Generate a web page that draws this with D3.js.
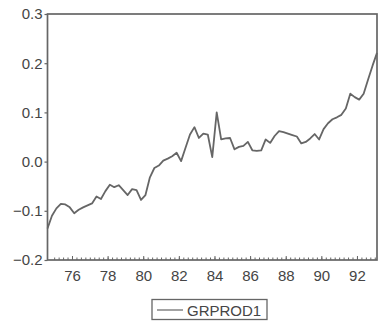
<!DOCTYPE html>
<html>
<head>
<meta charset="utf-8">
<script src="https://cdn.jsdelivr.net/npm/d3@7"></script>
<style>
  html, body { margin: 0; padding: 0; background: #fff; }
  svg { display: block; }
  text { font-family: "Liberation Sans", Arial, sans-serif; fill: #454545; }
</style>
</head>
<body>
<svg id="chart" width="380" height="324"></svg>
<script>
// Quarterly series GRPROD1, 1974Q3 - 1993Q1
const startYear = 1974, startQuarter = 3;
const grprod1 = [
  -0.136, -0.110, -0.095, -0.086, -0.087, -0.093, -0.105, -0.098, -0.093, -0.089,
  -0.085, -0.071, -0.076, -0.060, -0.047, -0.052, -0.048, -0.058, -0.068, -0.056,
  -0.058, -0.078, -0.068, -0.032, -0.013, -0.008,  0.002,  0.006,  0.011,  0.018,
   0.001,  0.028,  0.055,  0.070,  0.048,  0.057,  0.055,  0.009,  0.100,  0.045,
   0.047,  0.048,  0.025,  0.030,  0.032,  0.040,  0.023,  0.022,  0.023,  0.045,
   0.038,  0.052,  0.062,  0.060,  0.057,  0.054,  0.051,  0.037,  0.040,  0.047,
   0.056,  0.045,  0.066,  0.078,  0.086,  0.090,  0.095,  0.108,  0.138,  0.131,
   0.126,  0.138,  0.167,  0.195,  0.221
];
const yTicks = [-0.2, -0.1, 0.0, 0.1, 0.2, 0.3];
const xLabelYears = [1976, 1978, 1980, 1982, 1984, 1986, 1988, 1990, 1992];
const seriesName = "GRPROD1";

// each observation sits at the middle of its quarter
const points = grprod1.map((v, i) => {
  const q = startQuarter - 1 + i;
  return { t: startYear + Math.floor(q / 4) + (q % 4) / 4 + 0.125, v };
});

const margin = { left: 47.5, right: 3, top: 14, bottom: 64 };
const W = 380, H = 324;
const svg = d3.select("#chart");

const x = d3.scaleLinear()
  .domain([points[0].t, points[points.length - 1].t])
  .range([margin.left, W - margin.right]);
const y = d3.scaleLinear()
  .domain([-0.2, 0.3])
  .range([H - margin.bottom, margin.top]);

const frameColor = "#666";
const textColor = "#454545";

// quarterly ticks on the bottom axis, pointing into the plot
const quarterTicks = d3.range(1975, 1993.25, 0.25);
svg.append("g")
  .attr("transform", `translate(0,${y(-0.2)})`)
  .call(d3.axisBottom(x).tickValues(quarterTicks).tickSize(-2.5).tickFormat(""))
  .call(g => g.select(".domain").remove())
  .call(g => g.selectAll("line").attr("stroke", frameColor).attr("stroke-width", 1));

svg.append("g")
  .attr("transform", `translate(0,${y(-0.2)})`)
  .call(d3.axisBottom(x).tickValues(xLabelYears).tickSize(-4)
    .tickFormat(d => String(d % 100).padStart(2, "0")).tickPadding(10))
  .call(g => g.select(".domain").remove())
  .call(g => g.selectAll("line").attr("stroke", frameColor).attr("stroke-width", 1))
  .call(g => g.selectAll("text").attr("font-size", 15).attr("fill", textColor)
    .attr("font-family", "'Liberation Sans', Arial, sans-serif"));

// left axis
svg.append("g")
  .attr("transform", `translate(${margin.left},0)`)
  .call(d3.axisLeft(y).tickValues(yTicks).tickSize(3).tickPadding(2).tickFormat(d3.format(".1f")))
  .call(g => g.select(".domain").remove())
  .call(g => g.selectAll("line").attr("stroke", frameColor).attr("stroke-width", 1.2))
  .call(g => g.selectAll("text").attr("font-size", 15).attr("fill", textColor)
    .attr("font-family", "'Liberation Sans', Arial, sans-serif"));

// plot frame
svg.append("rect")
  .attr("x", margin.left).attr("y", margin.top)
  .attr("width", W - margin.right - margin.left)
  .attr("height", y(-0.2) - margin.top)
  .attr("fill", "none").attr("stroke", frameColor).attr("stroke-width", 1.7);

// series line
const line = d3.line().x(d => x(d.t)).y(d => y(d.v));
svg.append("path")
  .datum(points)
  .attr("d", line)
  .attr("fill", "none")
  .attr("stroke", "#666")
  .attr("stroke-width", 1.8)
  .attr("stroke-linejoin", "round");

// legend
const lg = svg.append("g").attr("transform", "translate(152,299.5)");
lg.append("rect").attr("width", 115).attr("height", 20)
  .attr("fill", "#fff").attr("stroke", frameColor).attr("stroke-width", 1.3);
lg.append("line").attr("x1", 5).attr("x2", 31).attr("y1", 10.5).attr("y2", 10.5)
  .attr("stroke", "#666").attr("stroke-width", 1.2);
lg.append("text").attr("x", 35).attr("y", 16).attr("font-size", 15).text(seriesName);
</script>
</body>
</html>
